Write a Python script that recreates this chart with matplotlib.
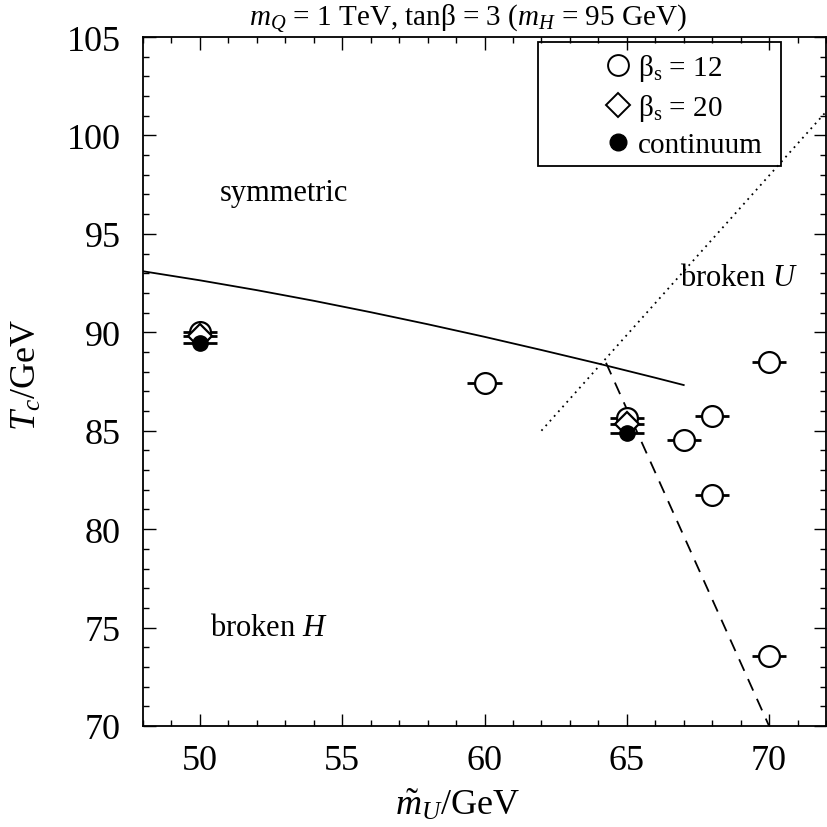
import matplotlib
matplotlib.use("Agg")
import matplotlib.pyplot as plt
from matplotlib.lines import Line2D
from matplotlib.patches import Rectangle

# ---------------- data ----------------
circ_mU = [50, 60, 65, 67, 68, 68, 70, 70]
circ_Tc = [90.0, 87.4, 85.65, 84.55, 85.75, 81.75, 88.5, 73.55]
circ_err = [0.6, 0.6, 0.6, 0.6, 0.6, 0.6, 0.6, 0.6]

diam_mU = [50, 65]
diam_Tc = [89.8, 85.35]
diam_err = [0.6, 0.6]

cont_mU = [50, 65]
cont_Tc = [89.45, 84.9]
cont_err = [0.6, 0.6]

solid_mU = [48, 50, 52, 54, 56, 58, 60, 62, 64, 66, 67]
solid_Tc = [93.1, 92.64, 92.14, 91.6, 91.02, 90.41, 89.77, 89.10, 88.41, 87.69, 87.32]

dash_mU = [64.27, 70.0]
dash_Tc = [88.45, 70.0]

dot_mU = [62.0, 72.0]
dot_Tc = [85.0, 101.2]

legend_labels = [r"β$_\mathrm{s}$ = 12", r"β$_\mathrm{s}$ = 20", "continuum"]
title_text = r"$m_Q$ = 1 TeV, tanβ = 3 ($m_H$ = 95 GeV)"

# ---------------- style ----------------
plt.rcParams["font.family"] = ["Liberation Serif", "DejaVu Serif"]
plt.rcParams["mathtext.fontset"] = "custom"
plt.rcParams["mathtext.rm"] = "Liberation Serif"
plt.rcParams["mathtext.it"] = "Liberation Serif:italic"
plt.rcParams["mathtext.bf"] = "Liberation Serif:bold"

fig = plt.figure(figsize=(8.27, 8.28), dpi=100)
ax = fig.add_axes([143 / 827, 101 / 828, 683 / 827, 689 / 828])

# phase boundary lines
ax.plot(solid_mU, solid_Tc, color="black", lw=1.3, zorder=2)
ax.plot(dash_mU, dash_Tc, color="black", lw=1.3, ls=(0, (7, 5)), zorder=2)
ax.plot(dot_mU, dot_Tc, color="black", lw=1.3, ls=(0, (1, 2.5)), zorder=2)

# data points
ax.errorbar(circ_mU, circ_Tc, xerr=circ_err, fmt="o", ms=15, mfc="white",
             mec="black", mew=1.6, ecolor="black", elinewidth=2, capsize=0, zorder=3)
ax.errorbar(diam_mU, diam_Tc, xerr=diam_err, fmt="D", ms=12, mfc="white",
             mec="black", mew=1.6, ecolor="black", elinewidth=2, capsize=0, zorder=4)
ax.errorbar(cont_mU, cont_Tc, xerr=cont_err, fmt="o", ms=11, mfc="black",
             mec="black", mew=1.0, ecolor="black", elinewidth=2, capsize=0, zorder=5)

# region labels
ax.text(50.7, 97.1, "symmetric", fontsize=22, va="center", ha="left")
ax.text(50.35, 75.0, r"broken $H$", fontsize=22, va="center", ha="left")
ax.text(66.87, 92.8, r"broken $U$", fontsize=22, va="center", ha="left")

# axes
ax.set_xlim(48, 72)
ax.set_ylim(70, 105)
ax.set_xticks([50, 55, 60, 65, 70])
ax.set_yticks([70, 75, 80, 85, 90, 95, 100, 105])
ax.set_xticks(range(48, 73), minor=True)
ax.set_yticks(range(70, 106), minor=True)
ax.tick_params(which="both", direction="in", top=True, right=True, width=1.0)
ax.tick_params(which="major", length=9, labelsize=26)
ax.tick_params(which="minor", length=4)
ax.tick_params(axis="y", which="major", pad=16)
ax.tick_params(axis="x", which="major", pad=13)
for s in ax.spines.values():
    s.set_linewidth(1.3)

ax.set_xlabel(r"$\tilde{m}_U$/GeV", fontsize=26)
ax.set_ylabel(r"$T_c$/GeV", fontsize=26)
ax.xaxis.set_label_coords(0.46, -0.113)
ax.xaxis.label.set_va("center")
ax.yaxis.set_label_coords(-0.170, 0.511)
ax.yaxis.label.set_va("center")

# legend
handles = [
    Line2D([], [], ls="none", marker="o", ms=15, mfc="white", mec="black", mew=1.4),
    Line2D([], [], ls="none", marker="D", ms=12, mfc="white", mec="black", mew=1.4),
    Line2D([], [], ls="none", marker="o", ms=12, mfc="black", mec="black"),
]
leg = ax.legend(handles, legend_labels, loc="upper left",
                bbox_to_anchor=((603 - 143) / 683, (727 - 53) / 689),
                frameon=False, fontsize=21, handlelength=1.0, handletextpad=0.2,
                borderpad=0, borderaxespad=0, labelspacing=0.3)
ax.add_patch(Rectangle(((538 - 143) / 683, (727 - 167) / 689), (781 - 538) / 683,
                       (167 - 43) / 689, transform=ax.transAxes, fill=False,
                       ec="black", lw=1.3, zorder=6))

fig.text(468 / 827, 1 - 25 / 828, title_text, fontsize=21, ha="center", va="baseline")

fig.savefig("out.png", dpi=100)
